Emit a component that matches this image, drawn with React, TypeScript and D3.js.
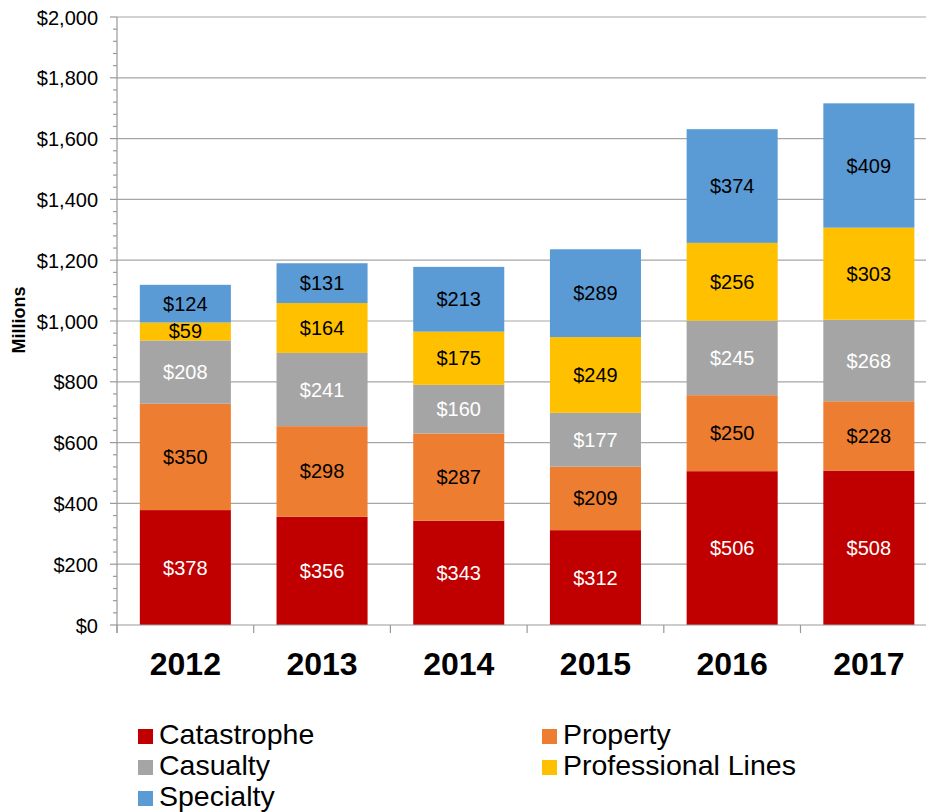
import React, { useEffect, useRef } from "react";
import * as d3 from "d3";

const years = ["2012", "2013", "2014", "2015", "2016", "2017"];
const seriesNames = ["Catastrophe", "Property", "Casualty", "Professional Lines", "Specialty"];
const catastrophe = [378, 356, 343, 312, 506, 508];
const property = [350, 298, 287, 209, 250, 228];
const casualty = [208, 241, 160, 177, 245, 268];
const professional = [59, 164, 175, 249, 256, 303];
const specialty = [124, 131, 213, 289, 374, 409];
const yTicks = [0, 200, 400, 600, 800, 1000, 1200, 1400, 1600, 1800, 2000];

const colors = ["#c00000", "#ed7d31", "#a5a5a5", "#ffc000", "#5b9bd5"];
const labelColors = ["#ffffff", "#000000", "#ffffff", "#000000", "#000000"];

const FONT = "'Liberation Sans', Arial, sans-serif";

const App = () => {
    const svgRef = useRef(null);
    const width = 926;
    const height = 812;
    const left = 117;
    const top = 17;
    const bottom = 625;
    const step = 136.7;

    useEffect(() => {
        const svg = d3.select(svgRef.current);
        svg.selectAll("*").remove();

        const allSeries = [catastrophe, property, casualty, professional, specialty];
        const rows = years.map((y, i) => {
            const r = { year: y };
            seriesNames.forEach((k, j) => {
                r[k] = allSeries[j][i];
            });
            return r;
        });
        const stacked = d3.stack().keys(seriesNames)(rows);

        //scales
        const x = d3
            .scaleBand()
            .domain(years)
            .range([left, left + step * years.length])
            .paddingInner(0.334)
            .paddingOuter(0.167);

        const y = d3.scaleLinear().domain([0, 2000]).range([bottom, top]);

        // gridlines
        svg
            .append("g")
            .selectAll("line")
            .data(yTicks.slice(1))
            .enter()
            .append("line")
            .attr("x1", left)
            .attr("x2", width)
            .attr("y1", (d) => y(d))
            .attr("y2", (d) => y(d))
            .attr("stroke", "#a6a6a6")
            .attr("stroke-width", 1.2);

        // bars
        const layers = svg
            .append("g")
            .selectAll("g")
            .data(stacked)
            .enter()
            .append("g")
            .attr("fill", (d, i) => colors[i]);

        layers
            .selectAll("rect")
            .data((d) => d)
            .enter()
            .append("rect")
            .attr("x", (d) => x(d.data.year))
            .attr("width", x.bandwidth())
            .attr("y", (d) => y(d[1]))
            .attr("height", (d) => y(d[0]) - y(d[1]));

        // value labels
        stacked.forEach((layer, i) => {
            svg
                .append("g")
                .selectAll("text")
                .data(layer)
                .enter()
                .append("text")
                .attr("x", (d) => x(d.data.year) + x.bandwidth() / 2)
                .attr("y", (d) => (y(d[0]) + y(d[1])) / 2 + 7)
                .attr("text-anchor", "middle")
                .style("font-family", FONT)
                .style("font-size", "20px")
                .attr("fill", labelColors[i])
                .text((d) => "$" + (d[1] - d[0]));
        });

        // y axis
        const yAxis = svg.append("g");
        yAxis
            .append("line")
            .attr("x1", left)
            .attr("x2", left)
            .attr("y1", top)
            .attr("y2", bottom + 8)
            .attr("stroke", "#999999")
            .attr("stroke-width", 1.2);

        yAxis
            .selectAll(".minor")
            .data(d3.range(0, 2001, 40))
            .enter()
            .append("line")
            .attr("x1", (d) => (d % 200 === 0 ? left - 7 : left - 4))
            .attr("x2", left)
            .attr("y1", (d) => y(d))
            .attr("y2", (d) => y(d))
            .attr("stroke", "#999999")
            .attr("stroke-width", 1.2);

        yAxis
            .selectAll("text")
            .data(yTicks)
            .enter()
            .append("text")
            .attr("x", 98)
            .attr("y", (d) => y(d) + 7.5)
            .attr("text-anchor", "end")
            .style("font-family", FONT)
            .style("font-size", "20px")
            .attr("fill", "#000")
            .text((d) => "$" + d3.format(",")(d));

        // x axis
        const xAxis = svg.append("g");
        xAxis
            .append("line")
            .attr("x1", left)
            .attr("x2", width)
            .attr("y1", bottom)
            .attr("y2", bottom)
            .attr("stroke", "#999999")
            .attr("stroke-width", 1.2);

        xAxis
            .selectAll(".tick")
            .data(d3.range(years.length + 1))
            .enter()
            .append("line")
            .attr("x1", (d) => left + d * x.step())
            .attr("x2", (d) => left + d * x.step())
            .attr("y1", bottom)
            .attr("y2", bottom + 8)
            .attr("stroke", "#999999")
            .attr("stroke-width", 1.2);

        xAxis
            .selectAll("text")
            .data(years)
            .enter()
            .append("text")
            .attr("x", (d) => x(d) + x.bandwidth() / 2)
            .attr("y", 675)
            .attr("text-anchor", "middle")
            .style("font-family", FONT)
            .style("font-size", "32px")
            .style("font-weight", "bold")
            .text((d) => d);

        // axis title
        svg
            .append("text")
            .attr("transform", "translate(25,320) rotate(-90)")
            .attr("text-anchor", "middle")
            .style("font-family", FONT)
            .style("font-size", "18px")
            .style("font-weight", "bold")
            .text("Millions");

        // legend
        const legend = svg
            .append("g")
            .selectAll("g")
            .data(seriesNames)
            .enter()
            .append("g")
            .attr("transform", (d, i) => `translate(${i % 2 === 0 ? 138 : 542},${744 + Math.floor(i / 2) * 31})`);

        legend
            .append("rect")
            .attr("x", 0)
            .attr("y", -15)
            .attr("width", 15)
            .attr("height", 15)
            .attr("fill", (d, i) => colors[i]);

        legend
            .append("text")
            .attr("x", 21)
            .attr("y", 0)
            .style("font-family", FONT)
            .style("font-size", "28.5px")
            .attr("fill", "#000")
            .text((d) => d);
    }, []);

    return (
        <svg
            ref={svgRef}
            width={width}
            height={height}
            style={{ position: "absolute", left: 0, top: 0, background: "#fff" }}
        />
    );
};

export default App;
